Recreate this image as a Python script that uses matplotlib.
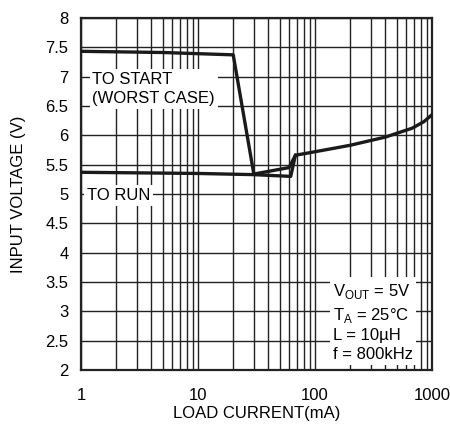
import matplotlib

matplotlib.use("Agg")

import matplotlib.pyplot as plt
import numpy as np

# curve data
start_current = [1, 5, 20, 30, 60, 68]
start_voltage = [7.43, 7.41, 7.37, 5.34, 5.45, 5.66]

run_current = [1, 10, 30, 62, 68, 100, 200, 400, 675, 850, 1000]
run_voltage = [5.37, 5.35, 5.33, 5.30, 5.66, 5.72, 5.83, 5.97, 6.12, 6.23, 6.35]

y_ticks = [2, 2.5, 3, 3.5, 4, 4.5, 5, 5.5, 6, 6.5, 7, 7.5, 8]
y_tick_labels = ["2", "2.5", "3", "3.5", "4", "4.5", "5", "5.5", "6", "6.5", "7", "7.5", "8"]
x_ticks = [1, 10, 100, 1000]
x_tick_labels = ["1", "10", "100", "1000"]

plt.rcParams["font.family"] = ["Liberation Sans", "DejaVu Sans"]
plt.rcParams["mathtext.fontset"] = "custom"
plt.rcParams["mathtext.rm"] = "Liberation Sans"

fig = plt.figure(figsize=(4.5, 4.25), dpi=100)
ax = fig.add_axes([0.18, 0.129, 0.78, 0.829])

ax.set_xscale("log")
ax.set_xlim(1, 1000)
ax.set_ylim(2, 8)

# grid
ax.set_yticks(y_ticks)
ax.set_yticklabels(y_tick_labels, fontsize=12)
ax.set_xticks(x_ticks)
ax.set_xticklabels(x_tick_labels, fontsize=12)
ax.xaxis.set_minor_locator(matplotlib.ticker.LogLocator(base=10, subs=np.arange(2, 10)))
ax.xaxis.set_minor_formatter(matplotlib.ticker.NullFormatter())
ax.grid(True, which="both", color="#222222", linewidth=1.0)
ax.tick_params(axis="y", which="both", length=0, pad=9)
ax.tick_params(axis="x", which="both", length=0, pad=13)
for s in ax.spines.values():
    s.set_linewidth(1.6)
    s.set_color("#222222")

ax.plot(start_current, start_voltage, color="#1a1a1a", linewidth=2.4, zorder=3)
ax.plot(run_current, run_voltage, color="#1a1a1a", linewidth=2.4, zorder=3)

box = dict(facecolor="white", edgecolor="none", pad=2)
ax.text(1.25, 6.79, "TO START\n(WORST CASE)", fontsize=12, va="center", ha="left",
        linespacing=1.3, bbox=box, zorder=4)
ax.text(1.13, 4.97, "TO RUN", fontsize=12, va="center", ha="left", bbox=box, zorder=4)
ax.text(
    143, 2.82,
    "V$_{\\mathregular{OUT}}$ = 5V\nT$_{\\mathregular{A}}$ = 25°C\nL = 10µH\nf = 800kHz",
    fontsize=12, va="center", ha="left", linespacing=1.3, bbox=box, zorder=4,
)

ax.set_xlabel("LOAD CURRENT(mA)", fontsize=12, labelpad=2)
ax.set_ylabel("INPUT VOLTAGE (V)", fontsize=12, labelpad=14)

plt.savefig("out.png", dpi=100)
plt.close()
